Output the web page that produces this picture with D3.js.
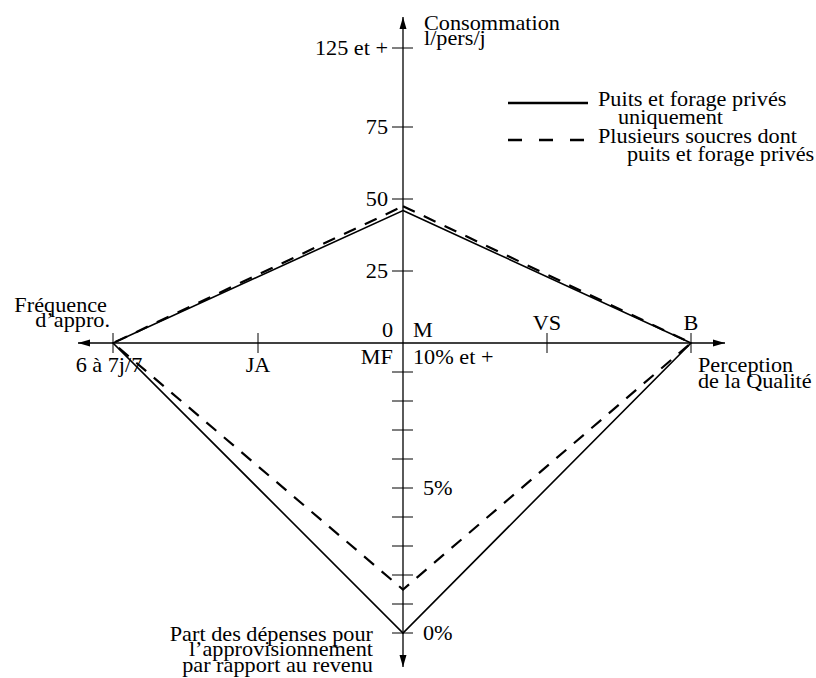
<!DOCTYPE html>
<html lang="fr">
<head>
<meta charset="UTF-8">
<title>Diagramme en étoile</title>
<script src="https://d3js.org/d3.v7.min.js"></script>
<style>
  body { margin: 0; background: #fff; }
  svg { font-family: "Liberation Serif", "Times New Roman", serif; }
</style>
</head>
<body>
<svg width="816" height="678"></svg>
<script>
// axes categories / ticks
const freqCats = ["MF", "JA", "6 à 7j/7"];        // left axis (from center outwards)
const qualCats = ["M", "VS", "B"];                // right axis
const consTicks = [25, 50, 75, 125];              // up axis
const consLabels = ["25", "50", "75", "125 et +"];
const depTicks = [0, 1, 2, 3, 4, 5, 6, 7, 8, 9];  // down axis (%)
const depLabels = { 0: "0%", 5: "5%" };

// series
const seriesNames = ["Puits et forage privés|uniquement", "Plusieurs soucres dont|puits et forage privés"];
const consVals = [46, 47.5];          // l/pers/j
const freqVals = ["6 à 7j/7", "6 à 7j/7"];
const qualVals = ["B", "B"];
const depVals = [0, 1.5];             // % du revenu

const cx = 403, cy = 343;
const sx = 1.06; // horizontal stretch of the lettering
const svg = d3.select("svg");

// scales
const yUp = d3.scaleLinear().domain([0, 75, 125]).range([cy, 127, 48]);
const yDown = d3.scaleLinear().domain([10, 0]).range([cy, 633]);
const xLeft = d3.scalePoint().domain(freqCats).range([cx, 113]);
const xRight = d3.scalePoint().domain(qualCats).range([cx, 691]);

svg.append("defs").append("marker")
  .attr("id", "arrow")
  .attr("viewBox", "0 -5 12 10")
  .attr("refX", 12).attr("refY", 0)
  .attr("markerWidth", 12).attr("markerHeight", 10)
  .attr("markerUnits", "userSpaceOnUse")
  .attr("orient", "auto")
  .append("path").attr("d", "M0,-3.5L12,0L0,3.5Z").attr("fill", "#000");

function label(txt, x, y, anchor, size) {
  svg.append("text")
    .attr("transform", `translate(${x},${y}) scale(${sx},1)`)
    .attr("text-anchor", anchor || "start")
    .attr("font-size", size || 21)
    .attr("fill", "#000")
    .text(txt);
}

// axis lines
const axes = [[cx, cy, cx, 17], [cx, cy, cx, 667], [cx, cy, 78, cy], [cx, cy, 725, cy]];
svg.selectAll(".axis").data(axes).join("line")
  .attr("x1", d => d[0]).attr("y1", d => d[1]).attr("x2", d => d[2]).attr("y2", d => d[3])
  .attr("stroke", "#000").attr("stroke-width", 1.3)
  .attr("marker-end", "url(#arrow)");

// ticks vertical axis
svg.selectAll(".tu").data(consTicks).join("line")
  .attr("x1", cx - 11).attr("x2", cx + 10)
  .attr("y1", d => yUp(d)).attr("y2", d => yUp(d))
  .attr("stroke", "#000").attr("stroke-width", 1);
svg.selectAll(".td").data(depTicks).join("line")
  .attr("x1", cx - 11).attr("x2", cx + 10)
  .attr("y1", d => yDown(d)).attr("y2", d => yDown(d))
  .attr("stroke", "#000").attr("stroke-width", 1);
// ticks horizontal axis
const hTicks = freqCats.slice(1).map(c => xLeft(c)).concat(qualCats.slice(1).map(c => xRight(c)));
svg.selectAll(".th").data(hTicks).join("line")
  .attr("x1", d => d).attr("x2", d => d)
  .attr("y1", cy - 10).attr("y2", cy + 10)
  .attr("stroke", "#000").attr("stroke-width", 1);

// tick labels
consTicks.forEach((t, i) => label(consLabels[i], cx - 15, yUp(t) + 7, "end"));
label("0", cx - 10, cy - 6, "end");
label("M", cx + 10, cy - 6, "start");
label("MF", cx - 10, cy + 21, "end");
label("10% et +", cx + 10, cy + 21, "start");
Object.keys(depLabels).forEach(k => label(depLabels[k], cx + 20, yDown(+k) + 7, "start"));
freqCats.slice(1).forEach(c => label(c, xLeft(c) - (c === "JA" ? 0 : 4), cy + 29, "middle"));
qualCats.slice(1).forEach(c => label(c, xRight(c), cy - 13, "middle"));

// axis titles
label("Consommation", cx + 21, 30, "start");
label("l/pers/j", cx + 21, 45, "start");
label("Fréquence", 107, 312, "end");
label("d\u2019appro.", 110, 327, "end");
label("Perception", 698, 372, "start");
label("de la Qualité", 698, 388, "start");
label("Part des dépenses pour", 373, 641, "end");
label("l\u2019approvisionnement", 373, 656, "end");
label("par rapport au revenu", 373, 672, "end");

// series polygons
const dashes = [null, "13,10"];
seriesNames.forEach((s, i) => {
  const pts = [
    [cx, yUp(consVals[i])],
    [xRight(qualVals[i]), cy],
    [cx, yDown(depVals[i])],
    [xLeft(freqVals[i]), cy]
  ];
  svg.append("path")
    .attr("d", d3.line()(pts) + "Z")
    .attr("fill", "none").attr("stroke", "#000")
    .attr("stroke-width", i === 0 ? 1.6 : 2.2)
    .attr("stroke-dasharray", dashes[i]);
});

// legend
const legY = [103, 140];
seriesNames.forEach((s, i) => {
  svg.append("line")
    .attr("x1", 508).attr("x2", 588).attr("y1", legY[i]).attr("y2", legY[i])
    .attr("stroke", "#000").attr("stroke-width", 2.4)
    .attr("stroke-dasharray", i === 0 ? null : "14,17");
  const parts = s.split("|");
  label(parts[0], 598, legY[i] + 3, "start");
  label(parts[1], i === 0 ? 618 : 627, legY[i] + 21, "start");
});
</script>
</body>
</html>
